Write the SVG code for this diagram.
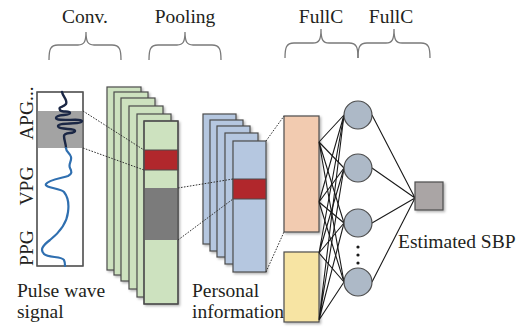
<svg xmlns="http://www.w3.org/2000/svg" width="520" height="327" viewBox="0 0 520 327">
  <style>
    .lbl { font-family: "Liberation Serif", "Times New Roman", serif; font-size: 19.5px; fill: #231f20; }
    .brace { fill: none; stroke: #7a7a7a; stroke-width: 1.3; }
    .box { stroke: #4d4d4d; stroke-width: 1.2; filter: url(#shadow); }
    .green { fill: #cde2bf; }
    .blue { fill: #b5c7e0; }
    .hot { fill: #b1272c; stroke: #4d4d4d; stroke-width: 1; }
    .dot { fill: none; stroke: #333; stroke-width: 1; stroke-dasharray: 1.6 1.4; }
    .fc { stroke: #1a1a1a; stroke-width: 1.1; fill: none; }
    .neuron { fill: #adb9c7; stroke: #4d4d4d; stroke-width: 1.2; }
  </style>
  <defs>
    <filter id="shadow" x="-20%" y="-20%" width="150%" height="150%">
      <feDropShadow dx="1.5" dy="1.5" stdDeviation="0.8" flood-color="#000" flood-opacity="0.3"/>
    </filter>
  </defs>

  <!-- stage titles and braces -->
  <g id="titles">
    <text class="lbl" x="85" y="23" text-anchor="middle">Conv.</text>
    <text class="lbl" x="185" y="23" text-anchor="middle">Pooling</text>
    <text class="lbl" x="321" y="23" text-anchor="middle">FullC</text>
    <text class="lbl" x="391" y="23" text-anchor="middle">FullC</text>
    <path class="brace" d="M49,60 C49,50 50,45 58,45 L78,45 C84,45 86,42 86,32 C86,42 88,45 94,45 L112,45 C120,45 121,50 121,60"/>
    <path class="brace" d="M149,60 C149,50 150,45 158,45 L177,45 C183,45 185,42 185,32 C185,42 187,45 193,45 L212,45 C220,45 221,50 221,60"/>
    <path class="brace" d="M285,58 C285,48 286,43 294,43 L313,43 C319,43 321,40 321,29 C321,40 323,43 329,43 L349,43 C357,43 358,48 358,58"/>
    <path class="brace" d="M358,58 C358,48 359,43 367,43 L386,43 C392,43 394,40 394,29 C394,40 396,43 402,43 L421,43 C429,43 430,48 430,58"/>
  </g>

  <!-- pulse wave input panel -->
  <g id="pulse-wave">
    <rect x="37" y="92" width="46" height="174" fill="#fff" stroke="#555" stroke-width="1.2"/>
    <rect x="37" y="111" width="46" height="37" fill="#a3a3a3"/>
    <rect x="37" y="92" width="46" height="174" fill="none" stroke="#555" stroke-width="1.2"/>
    <path d="M62,92 C63,97 68,100 66,104 C63,108 58,106 60,110 C62,113 70,110 70,113 C70,116 56,114 56,118 C56,122 82,118 82,121 C82,125 58,122 58,126 C58,130 76,128 75,131 C74,134 64,132 64,136 C64,140 66,144 66,148" fill="none" stroke="#1b2745" stroke-width="2.4" stroke-linecap="round"/>
    <path d="M66,148 C66,152 70,153 71,157 C72,161 68,164 70,168 C72,172 72,174 68,176 C62,178 48,180 46,184 C44,188 60,188 64,192 C68,197 69,205 68,212 C67,222 60,232 50,240 C42,246 40,250 44,254 C48,258 62,256 64,260 C65,262 65,264 65,266" fill="none" stroke="#2f6fb0" stroke-width="2.2" stroke-linecap="round"/>
    <text class="lbl" transform="translate(33,140) rotate(-90)">APG...</text>
    <text class="lbl" transform="translate(33,186) rotate(-90)" text-anchor="middle">VPG</text>
    <text class="lbl" transform="translate(33,248) rotate(-90)" text-anchor="middle">PPG</text>
    <text class="lbl" x="17" y="297">Pulse wave</text>
    <text class="lbl" x="17" y="318">signal</text>
  </g>

  <!-- convolution / pooling feature maps -->
  <g id="conv-maps">
    <rect class="box green" x="107" y="87" width="34" height="183"/>
    <rect class="box green" x="114" y="92" width="34" height="183"/>
    <rect class="box green" x="121" y="98" width="34" height="183"/>
    <rect class="box green" x="129" y="106" width="34" height="183"/>
    <rect class="box green" x="137" y="114" width="34" height="183"/>
    <rect class="box green" x="144" y="121" width="34" height="183"/>
    <rect class="hot" x="144" y="150" width="34" height="20"/>
    <rect x="144" y="188" width="34" height="52" fill="#7b7b7b"/>
    <rect x="144" y="121" width="34" height="183" fill="none" stroke="#4d4d4d" stroke-width="1.2"/>
  </g>

  <!-- pooled maps -->
  <g id="pool-maps">
    <rect class="box blue" x="203" y="114" width="33" height="130"/>
    <rect class="box blue" x="210" y="120" width="33" height="131"/>
    <rect class="box blue" x="217" y="126" width="33" height="131"/>
    <rect class="box blue" x="225" y="133" width="33" height="131"/>
    <rect class="box blue" x="233" y="141" width="33" height="131"/>
    <rect class="hot" x="233" y="179" width="33" height="20"/>
    <text class="lbl" x="192" y="297">Personal</text>
    <text class="lbl" x="192" y="318">information</text>
  </g>

  <!-- fully connected input blocks -->
  <g id="fc-feature">
    <rect class="box" x="284" y="116" width="35" height="116" fill="#f2cbb0"/>
  </g>
  <g id="fc-personal">
    <rect class="box" x="284" y="252" width="35" height="70" fill="#f7e4a3"/>
  </g>

  <!-- connectors -->
  <g id="connectors">
    <line class="dot" x1="83" y1="111" x2="144" y2="150"/>
    <line class="dot" x1="83" y1="148" x2="144" y2="170"/>
    <line class="dot" x1="178" y1="188" x2="233" y2="179"/>
    <line class="dot" x1="178" y1="240" x2="233" y2="199"/>
    <line class="dot" x1="266" y1="141" x2="284" y2="116"/>
    <line class="dot" x1="266" y1="272" x2="284" y2="232"/>

    <g class="fc">
      <path d="M319,142 L344,115 M319,142 L344,168 M319,142 L344,223 M319,142 L344,282"/>
      <path d="M319,202 L344,115 M319,202 L344,168 M319,202 L344,223 M319,202 L344,282"/>
      <path d="M319,253 L344,115 M319,253 L344,168 M319,253 L344,223 M319,253 L344,282"/>
      <path d="M319,320 L344,115 M319,320 L344,168 M319,320 L344,223 M319,320 L344,282"/>
      <path d="M372,115 L415,198 M372,168 L415,198 M372,223 L415,198 M372,282 L415,198"/>
    </g>
  </g>

  <!-- hidden layer neurons -->
  <g id="neuron-1"><circle class="neuron" cx="358" cy="115" r="14"/></g>
  <g id="neuron-2"><circle class="neuron" cx="358" cy="168" r="14"/></g>
  <g id="neuron-3"><circle class="neuron" cx="358" cy="223" r="14"/></g>
  <g id="neuron-dots">
    <circle cx="358" cy="247" r="1.6" fill="#1a1a1a"/>
    <circle cx="358" cy="255" r="1.6" fill="#1a1a1a"/>
    <circle cx="358" cy="263" r="1.6" fill="#1a1a1a"/>
  </g>
  <g id="neuron-4"><circle class="neuron" cx="358" cy="282" r="14"/></g>

  <!-- output -->
  <g id="output">
    <rect class="box" x="415" y="182" width="28" height="28" fill="#aaa5a5"/>
    <text class="lbl" x="398" y="248">Estimated SBP</text>
  </g>
</svg>
